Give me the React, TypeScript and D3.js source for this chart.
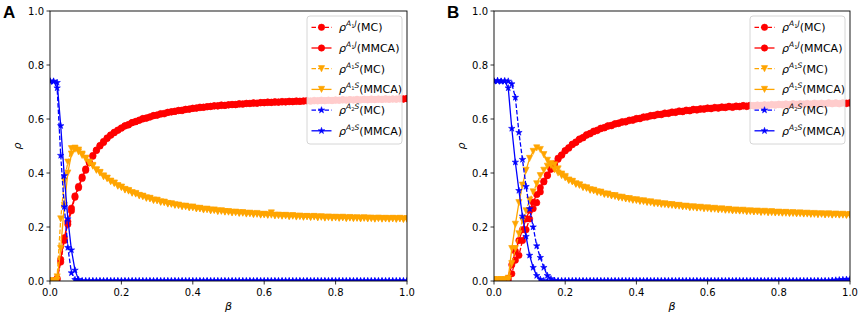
import React from 'react';
import * as d3 from 'd3';

// beta grid (x values)
const BETA: number[] = d3.range(101).map((i) => i / 100);
const X_TICKS = [0, 0.2, 0.4, 0.6, 0.8, 1.0];
const Y_TICKS = [0, 0.2, 0.4, 0.6, 0.8, 1.0];
const PANELS = ['A', 'B'];

// ---------- Panel A ----------
const A_J_MC = [
  0, 0, 0.005, 0.07, 0.15, 0.21, 0.26, 0.31, 0.345, 0.38,
  0.41, 0.438, 0.462, 0.483, 0.5, 0.513, 0.528, 0.54, 0.549, 0.558,
  0.566, 0.575, 0.578, 0.587, 0.59, 0.595, 0.602, 0.603, 0.607, 0.613,
  0.614, 0.62, 0.619, 0.625, 0.627, 0.628, 0.632, 0.631, 0.636, 0.636,
  0.64, 0.64, 0.644, 0.643, 0.646, 0.646, 0.649, 0.648, 0.652, 0.65,
  0.653, 0.654, 0.653, 0.657, 0.655, 0.658, 0.657, 0.66, 0.658, 0.661,
  0.66, 0.663, 0.661, 0.664, 0.662, 0.665, 0.663, 0.666, 0.664, 0.667,
  0.665, 0.667, 0.668, 0.666, 0.669, 0.667, 0.67, 0.668, 0.67, 0.668,
  0.671, 0.669, 0.672, 0.67, 0.672, 0.67, 0.673, 0.671, 0.673, 0.671,
  0.674, 0.672, 0.674, 0.672, 0.675, 0.673, 0.674, 0.673, 0.676, 0.674,
  0.676,
];
const A_J_MMCA = [
  0, 0, 0.01, 0.08, 0.16, 0.22, 0.27, 0.315, 0.35, 0.385,
  0.415, 0.44, 0.465, 0.485, 0.502, 0.517, 0.53, 0.541, 0.551, 0.559,
  0.567, 0.574, 0.58, 0.586, 0.591, 0.596, 0.6, 0.604, 0.608, 0.612,
  0.615, 0.618, 0.621, 0.624, 0.626, 0.629, 0.631, 0.633, 0.635, 0.637,
  0.639, 0.641, 0.642, 0.644, 0.645, 0.647, 0.648, 0.649, 0.65, 0.651,
  0.652, 0.653, 0.654, 0.655, 0.656, 0.657, 0.658, 0.658, 0.659, 0.66,
  0.661, 0.661, 0.662, 0.662, 0.663, 0.663, 0.664, 0.664, 0.665, 0.665,
  0.666, 0.666, 0.667, 0.667, 0.667, 0.668, 0.668, 0.668, 0.669, 0.669,
  0.669, 0.67, 0.67, 0.67, 0.671, 0.671, 0.671, 0.671, 0.672, 0.672,
  0.672, 0.672, 0.673, 0.673, 0.673, 0.673, 0.674, 0.674, 0.674, 0.674,
  0.675,
];
const A_S1_MC = [
  0, 0, 0.015, 0.23, 0.37, 0.44, 0.49, 0.488, 0.478, 0.465,
  0.452, 0.436, 0.428, 0.41, 0.402, 0.386, 0.381, 0.368, 0.363, 0.351,
  0.348, 0.337, 0.335, 0.325, 0.324, 0.315, 0.314, 0.306, 0.306, 0.298,
  0.299, 0.291, 0.292, 0.285, 0.286, 0.28, 0.281, 0.275, 0.277, 0.271,
  0.274, 0.267, 0.269, 0.263, 0.266, 0.26, 0.263, 0.257, 0.26, 0.255,
  0.257, 0.252, 0.255, 0.25, 0.253, 0.248, 0.251, 0.246, 0.25, 0.244,
  0.247, 0.243, 0.252, 0.241, 0.244, 0.24, 0.243, 0.238, 0.242, 0.237,
  0.24, 0.236, 0.239, 0.235, 0.239, 0.234, 0.238, 0.233, 0.237, 0.233,
  0.236, 0.232, 0.236, 0.231, 0.235, 0.231, 0.234, 0.23, 0.234, 0.23,
  0.233, 0.229, 0.233, 0.229, 0.232, 0.229, 0.232, 0.228, 0.232, 0.228,
  0.231,
];
const A_S1_MMCA = [
  0, 0, 0.003, 0.12, 0.28, 0.4, 0.47, 0.492, 0.485, 0.47,
  0.455, 0.44, 0.425, 0.412, 0.4, 0.389, 0.379, 0.37, 0.361, 0.353,
  0.346, 0.339, 0.333, 0.327, 0.322, 0.317, 0.312, 0.308, 0.304, 0.3,
  0.297, 0.293, 0.29, 0.287, 0.284, 0.282, 0.279, 0.277, 0.275, 0.273,
  0.271, 0.269, 0.267, 0.265, 0.264, 0.262, 0.261, 0.259, 0.258, 0.257,
  0.255, 0.254, 0.253, 0.252, 0.251, 0.25, 0.249, 0.248, 0.247, 0.246,
  0.245, 0.245, 0.244, 0.243, 0.242, 0.242, 0.241, 0.24, 0.24, 0.239,
  0.239, 0.238, 0.238, 0.237, 0.237, 0.236, 0.236, 0.235, 0.235, 0.235,
  0.234, 0.234, 0.234, 0.233, 0.233, 0.233, 0.232, 0.232, 0.232, 0.232,
  0.231, 0.231, 0.231, 0.231, 0.23, 0.23, 0.23, 0.23, 0.23, 0.229,
  0.229,
];
const A_S2_MC = [
  0.74, 0.738, 0.715, 0.465, 0.275, 0.124, 0.03, 0.005, 0, 0,
  0, 0, 0, 0, 0, 0, 0, 0, 0, 0,
  0, 0, 0, 0, 0, 0, 0, 0, 0, 0,
  0, 0, 0, 0, 0, 0, 0, 0, 0, 0,
  0, 0, 0, 0, 0, 0, 0, 0, 0, 0,
  0, 0, 0, 0, 0, 0, 0, 0, 0, 0,
  0, 0, 0, 0, 0, 0, 0, 0, 0, 0,
  0, 0, 0, 0, 0, 0, 0, 0, 0, 0,
  0, 0, 0, 0, 0, 0, 0, 0, 0, 0,
  0, 0, 0, 0, 0, 0, 0, 0, 0, 0,
  0,
];
const A_S2_MMCA = [
  0.74, 0.74, 0.735, 0.575, 0.39, 0.23, 0.115, 0.04, 0.005, 0,
  0, 0, 0, 0, 0, 0, 0, 0, 0, 0,
  0, 0, 0, 0, 0, 0, 0, 0, 0, 0,
  0, 0, 0, 0, 0, 0, 0, 0, 0, 0,
  0, 0, 0, 0, 0, 0, 0, 0, 0, 0,
  0, 0, 0, 0, 0, 0, 0, 0, 0, 0,
  0, 0, 0, 0, 0, 0, 0, 0, 0, 0,
  0, 0, 0, 0, 0, 0, 0, 0, 0, 0,
  0, 0, 0, 0, 0, 0, 0, 0, 0, 0,
  0, 0, 0, 0, 0, 0, 0, 0, 0, 0,
  0,
];

// ---------- Panel B ----------
const B_J_MC = [
  0, 0, 0, 0, 0, 0.027, 0.077, 0.095, 0.15, 0.19,
  0.23, 0.268, 0.29, 0.33, 0.367, 0.39, 0.415, 0.43, 0.455, 0.466,
  0.483, 0.492, 0.507, 0.513, 0.526, 0.53, 0.542, 0.545, 0.555, 0.557,
  0.566, 0.567, 0.575, 0.575, 0.583, 0.583, 0.59, 0.589, 0.596, 0.595,
  0.602, 0.601, 0.608, 0.607, 0.613, 0.612, 0.618, 0.616, 0.622, 0.62,
  0.626, 0.624, 0.63, 0.627, 0.633, 0.63, 0.636, 0.633, 0.638, 0.636,
  0.641, 0.638, 0.643, 0.64, 0.645, 0.642, 0.647, 0.643, 0.648, 0.645,
  0.65, 0.646, 0.651, 0.648, 0.652, 0.649, 0.653, 0.65, 0.654, 0.651,
  0.655, 0.652, 0.656, 0.652, 0.657, 0.653, 0.657, 0.654, 0.658, 0.654,
  0.659, 0.655, 0.659, 0.655, 0.66, 0.656, 0.66, 0.656, 0.66, 0.657,
  0.66,
];
const B_J_MMCA = [
  0, 0, 0, 0, 0.01, 0.06, 0.11, 0.15, 0.19, 0.23,
  0.262, 0.292, 0.32, 0.346, 0.37, 0.393, 0.414, 0.434, 0.451, 0.467,
  0.482, 0.494, 0.505, 0.515, 0.524, 0.532, 0.54, 0.547, 0.553, 0.559,
  0.564, 0.569, 0.573, 0.577, 0.581, 0.585, 0.588, 0.591, 0.594, 0.597,
  0.6, 0.603, 0.606, 0.609, 0.611, 0.614, 0.616, 0.618, 0.62, 0.622,
  0.624, 0.626, 0.628, 0.629, 0.631, 0.632, 0.634, 0.635, 0.636, 0.638,
  0.639, 0.64, 0.641, 0.642, 0.643, 0.644, 0.645, 0.645, 0.646, 0.647,
  0.648, 0.648, 0.649, 0.65, 0.65, 0.651, 0.651, 0.652, 0.652, 0.653,
  0.653, 0.654, 0.654, 0.654, 0.655, 0.655, 0.655, 0.656, 0.656, 0.656,
  0.657, 0.657, 0.657, 0.657, 0.658, 0.658, 0.658, 0.658, 0.659, 0.659,
  0.659,
];
const B_S1_MC = [
  0.003, 0.003, 0.003, 0.003, 0.003, 0.064, 0.12, 0.175, 0.225, 0.26,
  0.3, 0.33, 0.36, 0.39, 0.41, 0.425, 0.435, 0.43, 0.415, 0.396,
  0.387, 0.372, 0.369, 0.358, 0.356, 0.346, 0.345, 0.336, 0.336, 0.328,
  0.329, 0.321, 0.322, 0.315, 0.316, 0.309, 0.31, 0.304, 0.305, 0.299,
  0.301, 0.295, 0.297, 0.291, 0.293, 0.287, 0.289, 0.284, 0.286, 0.281,
  0.283, 0.278, 0.28, 0.275, 0.277, 0.272, 0.275, 0.27, 0.273, 0.268,
  0.271, 0.266, 0.269, 0.264, 0.267, 0.262, 0.265, 0.26, 0.263, 0.259,
  0.262, 0.257, 0.26, 0.256, 0.259, 0.254, 0.258, 0.253, 0.257, 0.252,
  0.255, 0.251, 0.254, 0.25, 0.253, 0.249, 0.252, 0.248, 0.251, 0.247,
  0.25, 0.246, 0.249, 0.245, 0.249, 0.244, 0.248, 0.244, 0.247, 0.243,
  0.246,
];
const B_S1_MMCA = [
  0.005, 0.005, 0.005, 0.005, 0.01, 0.12, 0.21, 0.29, 0.355, 0.41,
  0.454, 0.48, 0.493, 0.487, 0.468, 0.447, 0.428, 0.412, 0.4, 0.39,
  0.382, 0.374, 0.367, 0.36, 0.354, 0.348, 0.343, 0.338, 0.334, 0.33,
  0.326, 0.322, 0.319, 0.316, 0.313, 0.31, 0.307, 0.305, 0.302, 0.3,
  0.298, 0.296, 0.294, 0.292, 0.29, 0.288, 0.286, 0.285, 0.283, 0.282,
  0.28, 0.279, 0.277, 0.276, 0.275, 0.273, 0.272, 0.271, 0.27, 0.269,
  0.268, 0.267, 0.266, 0.265, 0.264, 0.263, 0.262, 0.261, 0.26, 0.26,
  0.259, 0.258, 0.257, 0.257, 0.256, 0.255, 0.255, 0.254, 0.253, 0.253,
  0.252, 0.252, 0.251, 0.251, 0.25, 0.25, 0.249, 0.249, 0.248, 0.248,
  0.247, 0.247, 0.247, 0.246, 0.246, 0.245, 0.245, 0.245, 0.244, 0.244,
  0.244,
];
const B_S2_MC = [
  0.74, 0.742, 0.739, 0.741, 0.74, 0.73, 0.68, 0.55, 0.45, 0.35,
  0.267, 0.2, 0.13, 0.087, 0.05, 0.02, 0.008, 0.002, 0, 0,
  0, 0, 0, 0, 0, 0, 0, 0, 0, 0,
  0, 0, 0, 0, 0, 0, 0, 0, 0, 0,
  0, 0, 0, 0, 0, 0, 0, 0, 0, 0,
  0, 0, 0, 0, 0, 0, 0, 0, 0, 0,
  0, 0, 0, 0, 0, 0, 0, 0, 0, 0,
  0, 0, 0, 0, 0, 0, 0, 0, 0, 0,
  0, 0, 0, 0, 0, 0, 0, 0, 0, 0,
  0, 0, 0, 0, 0, 0.002, 0.003, 0.004, 0.005, 0.006,
  0.007,
];
const B_S2_MMCA = [
  0.74, 0.74, 0.74, 0.74, 0.715, 0.565, 0.44, 0.335, 0.24, 0.165,
  0.095, 0.05, 0.02, 0.006, 0.001, 0, 0, 0, 0, 0,
  0, 0, 0, 0, 0, 0, 0, 0, 0, 0,
  0, 0, 0, 0, 0, 0, 0, 0, 0, 0,
  0, 0, 0, 0, 0, 0, 0, 0, 0, 0,
  0, 0, 0, 0, 0, 0, 0, 0, 0, 0,
  0, 0, 0, 0, 0, 0, 0, 0, 0, 0,
  0, 0, 0, 0, 0, 0, 0, 0, 0, 0,
  0, 0, 0, 0, 0, 0, 0, 0, 0, 0,
  0, 0, 0, 0, 0, 0, 0, 0, 0, 0,
  0,
];

const PANEL_DATA = [
  [A_J_MC, A_J_MMCA, A_S1_MC, A_S1_MMCA, A_S2_MC, A_S2_MMCA],
  [B_J_MC, B_J_MMCA, B_S1_MC, B_S1_MMCA, B_S2_MC, B_S2_MMCA],
];

// legend label parts
const LABEL_SUB = ['1', '1', '1', '1', '2', '2'];
const LABEL_STATE = ['J', 'J', 'S', 'S', 'S', 'S'];
const LABEL_METHOD = ['MC', 'MMCA', 'MC', 'MMCA', 'MC', 'MMCA'];

// styles
const COLORS = ['#ff0000', '#ff0000', '#ffa500', '#ffa500', '#0000ff', '#0000ff'];
const DASHED = [true, false, true, false, true, false];
const MARKERS = ['circle', 'circle', 'tri', 'tri', 'star', 'star'];

const FONT = "'DejaVu Sans', sans-serif";

const symCircle = d3.symbol(d3.symbolCircle, 32)() as string;
const symStar = d3.symbol(d3.symbolStar, 13)() as string;
// matplotlib-style 'v' marker (base = height = marker size)
const TRI_H = 3.1;
const symTriDown = (() => {
  const p = d3.path();
  p.moveTo(0, TRI_H);
  p.lineTo(-TRI_H, -TRI_H);
  p.lineTo(TRI_H, -TRI_H);
  p.closePath();
  return p.toString();
})();

function markerPath(kind: string) {
  if (kind === 'circle') return symCircle;
  if (kind === 'tri') return symTriDown;
  return symStar;
}

function Marker({ kind, x, y, color }: { kind: string; x: number; y: number; color: string }) {
  return (
    <path
      d={markerPath(kind)}
      transform={`translate(${x},${y})`}
      fill={color}
      stroke={color}
      strokeWidth={0.6}
    />
  );
}

function LegendLabel({ x, y, i }: { x: number; y: number; i: number }) {
  return (
    <text x={x} y={y} fontFamily={FONT} fontSize={11} fill="#000">
      <tspan fontStyle="italic">ρ</tspan>
      <tspan dy={-5} fontSize={7.5} fontStyle="italic">A</tspan>
      <tspan dy={1.6} fontSize={5.2}>{LABEL_SUB[i]}</tspan>
      <tspan dy={-1.6} fontSize={7.5} fontStyle="italic">{LABEL_STATE[i]}</tspan>
      <tspan dy={5}>({LABEL_METHOD[i]})</tspan>
    </text>
  );
}

function Panel({ idx, x0, x1 }: { idx: number; x0: number; x1: number }) {
  const top = 11;
  const bottom = 281;
  const xs = d3.scaleLinear().domain([0, 1]).range([x0, x1]);
  const ys = d3.scaleLinear().domain([0, 1]).range([bottom, top]);
  const line = d3
    .line<number>()
    .x((_, i) => xs(BETA[i]))
    .y((d) => ys(d));
  const data = PANEL_DATA[idx];
  const clipId = `clip-${idx}`;
  const legRight = x1 - 5;
  const legLeft = legRight - 95;
  const legTop = 16;
  const rowH = 20.7;
  return (
    <g>
      <defs>
        <clipPath id={clipId}>
          <rect x={x0} y={top} width={x1 - x0} height={bottom - top} />
        </clipPath>
      </defs>
      <g clipPath={`url(#${clipId})`}>
        {data.map((vals, s) => (
          <g key={s}>
            <path
              d={line(vals) as string}
              fill="none"
              stroke={COLORS[s]}
              strokeWidth={1.3}
              strokeDasharray={DASHED[s] ? '4.5,2' : undefined}
            />
            {vals.map((v, i) => (
              <Marker key={i} kind={MARKERS[s]} x={xs(BETA[i])} y={ys(v)} color={COLORS[s]} />
            ))}
          </g>
        ))}
      </g>
      {/* spines */}
      <rect x={x0} y={top} width={x1 - x0} height={bottom - top} fill="none" stroke="#000" strokeWidth={0.9} />
      {/* x ticks */}
      {X_TICKS.map((t) => (
        <g key={`x${t}`}>
          <line x1={xs(t)} x2={xs(t)} y1={bottom} y2={bottom + 3.5} stroke="#000" strokeWidth={0.8} />
          <text x={xs(t)} y={296} textAnchor="middle" fontFamily={FONT} fontSize={10} fill="#000">
            {d3.format('.1f')(t)}
          </text>
        </g>
      ))}
      {/* y ticks */}
      {Y_TICKS.map((t) => (
        <g key={`y${t}`}>
          <line x1={x0 - 3.5} x2={x0} y1={ys(t)} y2={ys(t)} stroke="#000" strokeWidth={0.8} />
          <text
            x={x0 - 6}
            y={ys(t)}
            dy="0.35em"
            textAnchor="end"
            fontFamily={FONT}
            fontSize={10}
            fill="#000"
          >
            {d3.format('.1f')(t)}
          </text>
        </g>
      ))}
      {/* axis labels */}
      <text x={(x0 + x1) / 2} y={310} textAnchor="middle" fontFamily={FONT} fontStyle="italic" fontSize={11}>
        β
      </text>
      <text
        transform={`translate(${x0 - 29},${(top + bottom) / 2}) rotate(-90)`}
        textAnchor="middle"
        fontFamily={FONT}
        fontStyle="italic"
        fontSize={11}
      >
        ρ
      </text>
      {/* panel letter */}
      <text
        x={x0 - 47}
        y={17.5}
        fontFamily="'Liberation Sans', Arial, sans-serif"
        fontWeight="bold"
        fontSize={17}
      >
        {PANELS[idx]}
      </text>
      {/* legend */}
      <rect
        x={legLeft}
        y={legTop}
        width={95}
        height={128}
        rx={3}
        fill="#fff"
        fillOpacity={0.8}
        stroke="#cccccc"
        strokeWidth={0.8}
      />
      {data.map((_, s) => {
        const cy = legTop + 11.3 + s * rowH;
        return (
          <g key={`leg${s}`}>
            <line
              x1={legLeft + 4.5}
              x2={legLeft + 24.5}
              y1={cy}
              y2={cy}
              stroke={COLORS[s]}
              strokeWidth={1.3}
              strokeDasharray={DASHED[s] ? '4.5,2' : undefined}
            />
            <Marker kind={MARKERS[s]} x={legLeft + 14.5} y={cy} color={COLORS[s]} />
            <LegendLabel x={legLeft + 32} y={cy + 4} i={s} />
          </g>
        );
      })}
    </g>
  );
}

export default function App() {
  return (
    <svg
      width={858}
      height={315}
      style={{ position: 'absolute', left: 0, top: 0, background: '#fff' }}
    >
      <rect width={858} height={315} fill="#fff" />
      <Panel idx={0} x0={50} x1={407} />
      <Panel idx={1} x0={494} x1={850} />
    </svg>
  );
}
